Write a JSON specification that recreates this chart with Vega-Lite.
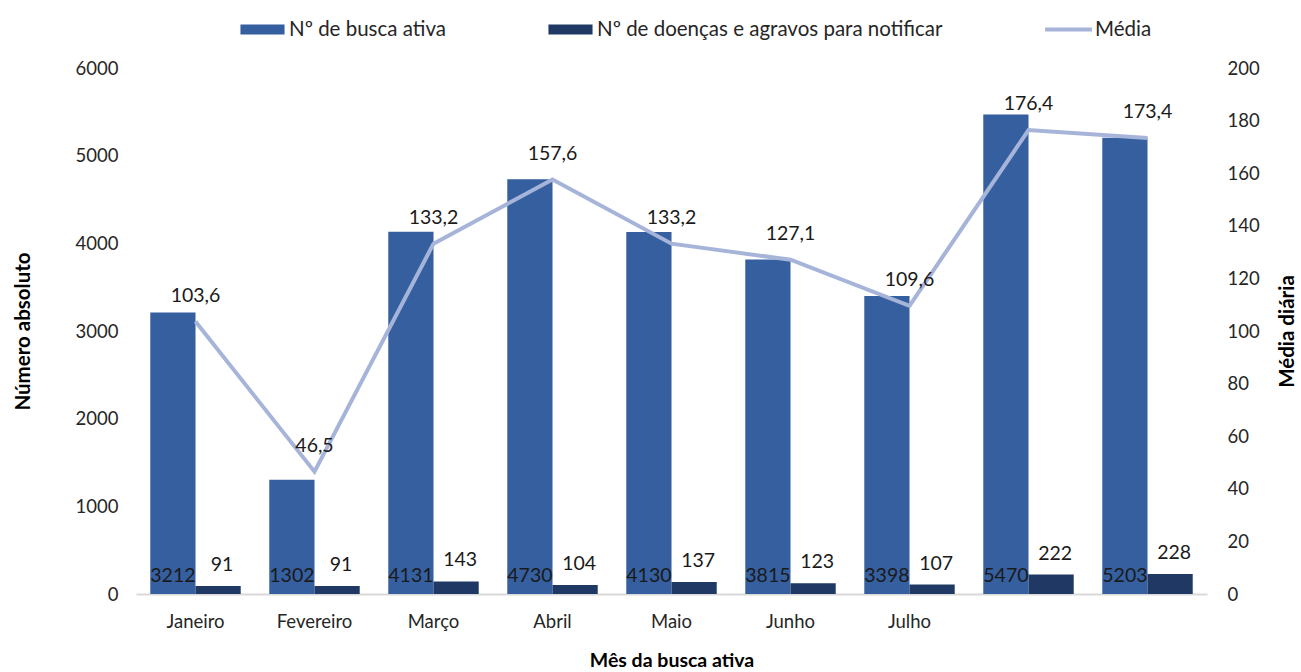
{
  "$schema": "https://vega.github.io/schema/vega-lite/v6.json",
  "width": 1071,
  "height": 526,
  "autosize": {"type": "none"},
  "padding": {"left": 136, "top": 68, "right": 94, "bottom": 78},
  "config": {
    "font": "Lato",
    "locale": {"number": {"decimal": ",", "thousands": ".", "grouping": [3], "currency": ["R$ ", ""]}},
    "view": {"stroke": null},
    "axis": {"labelFont": "Lato", "labelFontSize": 18.5, "labelColor": "#262626", "titleFont": "Lato", "titleFontSize": 20.5, "titleFontWeight": "bold", "titleColor": "#000000", "grid": false, "ticks": false, "domain": false}
  },
  "datasets": {
    "barras": [
      {"mes": "Janeiro", "serie": "Nº de busca ativa", "valor": 3212},
      {"mes": "Janeiro", "serie": "Nº de doenças e agravos para notificar", "valor": 91},
      {"mes": "Fevereiro", "serie": "Nº de busca ativa", "valor": 1302},
      {"mes": "Fevereiro", "serie": "Nº de doenças e agravos para notificar", "valor": 91},
      {"mes": "Março", "serie": "Nº de busca ativa", "valor": 4131},
      {"mes": "Março", "serie": "Nº de doenças e agravos para notificar", "valor": 143},
      {"mes": "Abril", "serie": "Nº de busca ativa", "valor": 4730},
      {"mes": "Abril", "serie": "Nº de doenças e agravos para notificar", "valor": 104},
      {"mes": "Maio", "serie": "Nº de busca ativa", "valor": 4130},
      {"mes": "Maio", "serie": "Nº de doenças e agravos para notificar", "valor": 137},
      {"mes": "Junho", "serie": "Nº de busca ativa", "valor": 3815},
      {"mes": "Junho", "serie": "Nº de doenças e agravos para notificar", "valor": 123},
      {"mes": "Julho", "serie": "Nº de busca ativa", "valor": 3398},
      {"mes": "Julho", "serie": "Nº de doenças e agravos para notificar", "valor": 107},
      {"mes": "Agosto", "serie": "Nº de busca ativa", "valor": 5470},
      {"mes": "Agosto", "serie": "Nº de doenças e agravos para notificar", "valor": 222},
      {"mes": "Setembro", "serie": "Nº de busca ativa", "valor": 5203},
      {"mes": "Setembro", "serie": "Nº de doenças e agravos para notificar", "valor": 228}
    ],
    "media": [
      {"mes": "Janeiro", "media": 103.6},
      {"mes": "Fevereiro", "media": 46.5},
      {"mes": "Março", "media": 133.2},
      {"mes": "Abril", "media": 157.6},
      {"mes": "Maio", "media": 133.2},
      {"mes": "Junho", "media": 127.1},
      {"mes": "Julho", "media": 109.6},
      {"mes": "Agosto", "media": 176.4},
      {"mes": "Setembro", "media": 173.4}
    ]
  },
  "layer": [
    {
      "data": {"name": "barras"},
      "layer": [
        {
          "mark": {"type": "bar"},
          "encoding": {
            "x": {"field": "mes", "type": "nominal", "sort": ["Janeiro", "Fevereiro", "Março", "Abril", "Maio", "Junho", "Julho", "Agosto", "Setembro"], "scale": {"paddingInner": 0.24, "paddingOuter": 0.12},
              "axis": {"title": "Mês da busca ativa", "titleFontSize": 19.5, "labelAngle": 0, "labelPadding": 18, "titlePadding": 21, "domain": true, "domainColor": "#d9d9d9", "domainWidth": 2, "labelExpr": "indexof(['Agosto','Setembro'], datum.value) >= 0 ? '' : datum.label"}},
            "xOffset": {"field": "serie", "type": "nominal", "sort": ["Nº de busca ativa", "Nº de doenças e agravos para notificar"]},
            "y": {"field": "valor", "type": "quantitative", "scale": {"domain": [0, 6000]}, "axis": {"title": "Número absoluto", "orient": "left", "values": [0, 1000, 2000, 3000, 4000, 5000, 6000], "format": "d", "labelPadding": 18, "titlePadding": 42}},
            "color": {"field": "serie", "type": "nominal",
              "scale": {"domain": ["Nº de busca ativa", "Nº de doenças e agravos para notificar", "Média"], "range": ["#355f9f", "#203864", "#a6b4da"]},
              "legend": {"orient": "none", "legendX": 104, "legendY": -61, "direction": "horizontal", "title": null, "labelFontSize": 20.5, "labelFont": "Lato", "labelColor": "#262626", "labelLimit": 800, "columnPadding": 102, "symbolSize": 2025, "labelOffset": 4, "symbolType": "M-0.98,-0.22H0.98V0.22H-0.98Z", "symbolStrokeWidth": 0,
                "encode": {"symbols": {"update": {"shape": {"signal": "datum.label === 'Média' ? 'M-1.04,-0.09H1.04V0.09H-1.04Z' : 'M-0.98,-0.22H0.98V0.22H-0.98Z'"}, "fill": {"signal": "scale('color', datum.value)"}, "opacity": {"value": 1}, "strokeWidth": {"value": 0}}}}}
            }
          }
        },
        {
          "transform": [{"filter": "datum.serie === 'Nº de busca ativa'"}],
          "mark": {"type": "text", "align": "center", "baseline": "alphabetic", "dy": -12, "fontSize": 19.5, "color": "#1a1a1a"},
          "encoding": {
            "x": {"field": "mes", "type": "nominal", "sort": ["Janeiro", "Fevereiro", "Março", "Abril", "Maio", "Junho", "Julho", "Agosto", "Setembro"]},
            "xOffset": {"field": "serie", "type": "nominal", "sort": ["Nº de busca ativa", "Nº de doenças e agravos para notificar"]},
            "y": {"datum": 0, "type": "quantitative"},
            "text": {"field": "valor", "type": "quantitative", "format": "d"}
          }
        },
        {
          "transform": [{"filter": "datum.serie !== 'Nº de busca ativa'"}],
          "mark": {"type": "text", "align": "center", "baseline": "alphabetic", "dy": -15, "dx": 4, "fontSize": 19.5, "color": "#1a1a1a"},
          "encoding": {
            "x": {"field": "mes", "type": "nominal", "sort": ["Janeiro", "Fevereiro", "Março", "Abril", "Maio", "Junho", "Julho", "Agosto", "Setembro"]},
            "xOffset": {"field": "serie", "type": "nominal", "sort": ["Nº de busca ativa", "Nº de doenças e agravos para notificar"]},
            "y": {"field": "valor", "type": "quantitative"},
            "text": {"field": "valor", "type": "quantitative", "format": "d"}
          }
        }
      ]
    },
    {
      "data": {"name": "media"},
      "layer": [
        {
          "mark": {"type": "line", "color": "#a6b4da", "strokeWidth": 4},
          "encoding": {
            "x": {"field": "mes", "type": "nominal", "sort": ["Janeiro", "Fevereiro", "Março", "Abril", "Maio", "Junho", "Julho", "Agosto", "Setembro"]},
            "y": {"field": "media", "type": "quantitative", "scale": {"domain": [0, 200]}, "axis": {"title": "Média diária", "orient": "right", "values": [0, 20, 40, 60, 80, 100, 120, 140, 160, 180, 200], "format": "d", "labelPadding": 20, "titlePadding": 38, "titleAngle": 270}}
          }
        },
        {
          "mark": {"type": "text", "align": "center", "baseline": "alphabetic", "dy": -20, "fontSize": 19.5, "color": "#1a1a1a"},
          "encoding": {
            "x": {"field": "mes", "type": "nominal", "sort": ["Janeiro", "Fevereiro", "Março", "Abril", "Maio", "Junho", "Julho", "Agosto", "Setembro"]},
            "y": {"field": "media", "type": "quantitative"},
            "text": {"field": "media", "type": "quantitative", "format": ".1f"}
          }
        }
      ]
    }
  ],
  "resolve": {"scale": {"y": "independent"}}
}
